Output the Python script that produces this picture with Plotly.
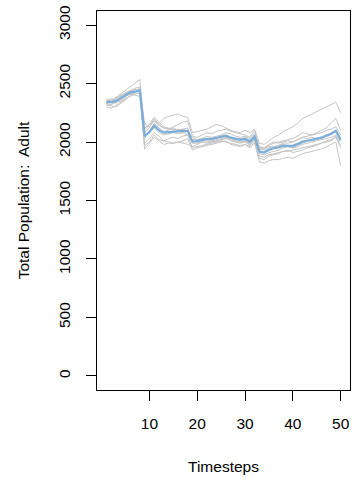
import plotly.graph_objects as go

timesteps = list(range(1, 51))

mean_adult = [2341, 2341, 2350, 2375, 2400, 2425, 2430, 2440,
              2051, 2085, 2139, 2100, 2080, 2085, 2090, 2090, 2095, 2096,
              2003, 2008, 2018, 2026, 2026, 2037, 2046, 2054, 2037, 2026, 2018, 2026, 2003, 2046,
              1919, 1910, 1933, 1947, 1953, 1967, 1970, 1967, 1984, 2003, 2011, 2018, 2026, 2037, 2054, 2068, 2096, 2018]

run_1 = [2330, 2350, 2380, 2410, 2440, 2470, 2500, 2535,
         2100, 2150, 2180, 2160, 2200, 2220, 2230, 2240, 2220, 2210,
         2080, 2090, 2100, 2110, 2130, 2150, 2140, 2120, 2100, 2090, 2080, 2100, 2080, 2110,
         1990, 1980, 2010, 2040, 2060, 2090, 2110, 2130, 2160, 2200, 2220, 2240, 2260, 2280, 2300, 2320, 2340, 2250]
run_2 = [2320, 2310, 2300, 2330, 2360, 2400, 2420, 2450,
         1940, 1990, 2040, 2010, 1980, 1990, 1990, 2000, 2010, 2030,
         1930, 1950, 1960, 1970, 1980, 1990, 2000, 2010, 1980, 1970, 1960, 1980, 1950, 2000,
         1830, 1820, 1840, 1850, 1850, 1860, 1870, 1860, 1880, 1900, 1910, 1920, 1930, 1940, 1960, 1980, 2000, 1800]
run_3 = [2350, 2370, 2360, 2390, 2420, 2440, 2460, 2470,
         2080, 2120, 2200, 2150, 2120, 2110, 2130, 2150, 2170, 2180,
         2050, 2040, 2060, 2080, 2070, 2090, 2100, 2110, 2090, 2080, 2070, 2060, 2040, 2100,
         1950, 1940, 1970, 1990, 2000, 2010, 2020, 2030, 2050, 2080, 2070, 2060, 2080, 2100, 2120, 2160, 2200, 2100]
run_4 = [2300, 2290, 2310, 2340, 2370, 2390, 2410, 2420,
         1990, 2030, 2080, 2050, 2010, 2000, 1990, 2000, 1990, 1980,
         1960, 1980, 2000, 1990, 2000, 2010, 2020, 2030, 2010, 2000, 1990, 2000, 1970, 2020,
         1880, 1870, 1890, 1900, 1910, 1920, 1930, 1910, 1920, 1930, 1950, 1960, 1970, 1990, 2000, 2010, 2040, 1950]
run_5 = [2360, 2340, 2370, 2400, 2410, 2430, 2420, 2440,
         2060, 2080, 2150, 2100, 2080, 2090, 2080, 2070, 2080, 2060,
         2000, 2010, 2020, 2030, 2020, 2030, 2050, 2060, 2040, 2030, 2020, 2040, 2010, 2050,
         1920, 1910, 1930, 1950, 1960, 1970, 1960, 1950, 1970, 1990, 2010, 2020, 2030, 2040, 2060, 2070, 2090, 2030]
run_6 = [2340, 2360, 2340, 2350, 2380, 2420, 2440, 2460,
         2030, 2090, 2160, 2120, 2090, 2100, 2120, 2100, 2110, 2120,
         2020, 2020, 2030, 2050, 2040, 2050, 2060, 2080, 2070, 2050, 2040, 2050, 2030, 2070,
         1960, 1950, 1980, 2000, 1990, 2000, 2010, 2000, 2020, 2040, 2050, 2060, 2070, 2080, 2100, 2110, 2130, 2060]
run_7 = [2310, 2320, 2350, 2380, 2400, 2410, 2400, 2390,
         1970, 2000, 2060, 2020, 2010, 2030, 2040, 2030, 2050, 2060,
         1950, 1960, 1970, 1980, 1990, 2000, 2010, 2000, 1990, 1980, 1970, 1980, 1960, 1990,
         1860, 1850, 1880, 1890, 1900, 1920, 1920, 1930, 1940, 1950, 1960, 1970, 1980, 1990, 2010, 2020, 2050, 1970]
run_8 = [2370, 2350, 2330, 2360, 2390, 2410, 2430, 2450,
         2120, 2150, 2210, 2170, 2130, 2120, 2100, 2110, 2100, 2090,
         2010, 2000, 2010, 2020, 2030, 2040, 2040, 2050, 2030, 2010, 2000, 2010, 1990, 2030,
         1940, 1930, 1950, 1960, 1970, 1980, 1970, 1960, 1980, 2000, 2010, 2010, 2020, 2030, 2050, 2070, 2100, 2020]
run_9 = [2330, 2320, 2340, 2370, 2400, 2430, 2450, 2440,
         2050, 2080, 2120, 2080, 2060, 2070, 2080, 2090, 2080, 2090,
         1990, 1990, 2000, 2000, 2010, 2020, 2030, 2040, 2020, 2010, 2000, 2010, 1980, 2020,
         1900, 1890, 1910, 1920, 1930, 1950, 1960, 1950, 1960, 1980, 1990, 2000, 2010, 2020, 2030, 2040, 2060, 2000]
run_10 = [2350, 2340, 2380, 2400, 2420, 2440, 2430, 2440,
          2160, 2130, 2180, 2140, 2120, 2110, 2110, 2100, 2110, 2090,
          2040, 2020, 2030, 2010, 2010, 2000, 2010, 2040, 2040, 2030, 2030, 2030, 2020, 2060,
          1950, 1950, 1960, 1960, 1970, 1990, 1990, 2000, 2020, 2040, 2030, 2040, 2030, 2040, 2060, 2080, 2100, 2040]

runs = [run_1, run_2, run_3, run_4, run_5, run_6, run_7, run_8, run_9, run_10]

x_ticks = [10, 20, 30, 40, 50]
y_ticks = [0, 500, 1000, 1500, 2000, 2500, 3000]

FONT = "Liberation Sans, Arial, Helvetica, sans-serif"
FS = 15.5

fig = go.Figure()
for r in runs:
    fig.add_trace(go.Scatter(x=timesteps, y=r, mode="lines",
                             line=dict(color="#c4c4c4", width=1),
                             showlegend=False, hoverinfo="skip"))
fig.add_trace(go.Scatter(x=timesteps, y=mean_adult, mode="lines",
                         line=dict(color="#7aaedb", width=2.2),
                         showlegend=False))

fig.update_layout(
    width=356, height=481,
    margin=dict(l=97, r=5, t=8, b=91),
    paper_bgcolor="white", plot_bgcolor="white",
    font=dict(family=FONT, size=FS, color="black"),
)
fig.update_xaxes(
    range=[-0.96, 51.96], tickvals=x_ticks, ticktext=[str(v) for v in x_ticks],
    showgrid=False, zeroline=False,
    showline=True, linecolor="black", linewidth=1.3, mirror=True,
    ticks="outside", ticklen=10, tickwidth=1.3, tickcolor="black",
    ticklabelstandoff=9,
    title=dict(text="Timesteps", standoff=30, font=dict(size=FS)),
)
fig.update_yaxes(
    range=[-120, 3120], tickvals=y_ticks, ticktext=[str(v) for v in y_ticks],
    showgrid=False, zeroline=False,
    showline=True, linecolor="black", linewidth=1.3, mirror=True,
    ticks="outside", ticklen=10, tickwidth=1.3, tickcolor="black",
    tickangle=-90, ticklabelstandoff=10,
    title=dict(text="Total Population:\u00a0 Adult", standoff=22, font=dict(size=FS)),
)

fig.write_html("out.html")
